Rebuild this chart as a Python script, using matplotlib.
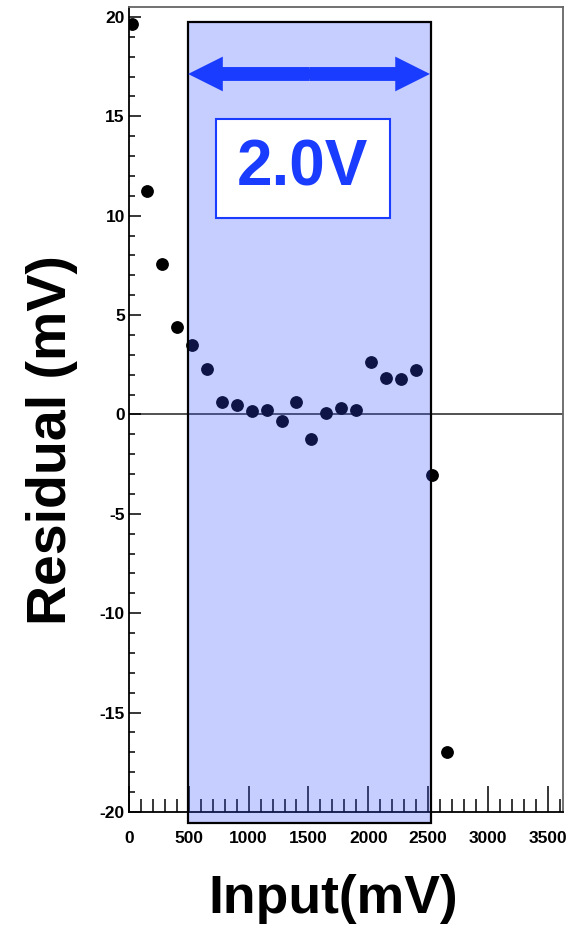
import matplotlib
matplotlib.use("Agg")
import matplotlib.pyplot as plt
from matplotlib.patches import Rectangle
from matplotlib.ticker import MultipleLocator

plt.rcParams['font.family'] = ['Liberation Sans', 'DejaVu Sans']
plt.rcParams['axes.unicode_minus'] = False

# residuals
input_mv = [25, 150, 275, 400, 525, 650, 775, 900, 1025, 1150, 1275,
            1400, 1525, 1650, 1775, 1900, 2025, 2150, 2275, 2400, 2535, 2660]
residual_mv = [19.65, 11.23, 7.56, 4.38, 3.5, 2.27, 0.65, 0.5, 0.18, 0.2, -0.35,
               0.65, -1.25, 0.05, 0.35, 0.2, 2.62, 1.82, 1.78, 2.22, -3.07, -17.0]

range_lo, range_hi = 492, 2522   # the 2.0V window
range_label = "2.0V"

W, H = 585, 925
fig = plt.figure(figsize=(W / 100, H / 100), dpi=100)
ax = fig.add_axes([129 / W, 1 - 812 / H, (563 - 129) / W, (812 - 7) / H])

ax.set_xlim(0, 3628)
ax.set_ylim(-20, 20.5)

# points
ax.plot(input_mv, residual_mv, 'o', color='black', ms=8.2, zorder=2)
ax.axhline(0, color='#222222', lw=1.1, zorder=1)

# shaded window (drawn over the points, like the original)
blue = '#1a3cff'
win = Rectangle((range_lo, -20.55), range_hi - range_lo, 20.55 + 19.75,
                facecolor=(0.2, 0.3, 1.0, 0.28), edgecolor='black', lw=1.6,
                zorder=3, clip_on=False)
ax.add_patch(win)

# double arrow
ymid = 17.13
xc = (range_lo + range_hi) / 2
ax.plot([xc - 300, xc + 300], [ymid, ymid], color=blue, lw=7, zorder=4,
        solid_capstyle='butt')
for xe in (range_lo + 2, range_hi - 6):
    ax.annotate('', xy=(xe, ymid), xytext=(xc, ymid),
                arrowprops=dict(arrowstyle='simple,head_length=0.5,head_width=0.5,tail_width=0.2',
                                color=blue, lw=0, mutation_scale=50,
                                shrinkA=0, shrinkB=0),
                zorder=4)

# label box
ax.add_patch(Rectangle((727, 9.9), 2180 - 727, 14.87 - 9.9,
                       facecolor='white', edgecolor=blue, lw=1.5, zorder=4))
ax.text(1454, 12.35, range_label, color=blue, fontsize=46, fontweight='bold',
        ha='center', va='center', zorder=5)

# axes styling, ROOT-like
for s in ('left', 'bottom'):
    ax.spines[s].set_color('black')
    ax.spines[s].set_linewidth(1.3)
for s in ('top', 'right'):
    ax.spines[s].set_color('#666666')
    ax.spines[s].set_linewidth(1.3)

ax.xaxis.set_major_locator(MultipleLocator(500))
ax.xaxis.set_minor_locator(MultipleLocator(100))
ax.yaxis.set_major_locator(MultipleLocator(5))
ax.yaxis.set_minor_locator(MultipleLocator(1))

ax.tick_params(axis='x', which='major', direction='in', length=18.5, width=1.1,
               pad=14, labelsize=12.5)
ax.tick_params(axis='x', which='minor', direction='in', length=9.5, width=1.1)
ax.tick_params(axis='y', which='major', direction='in', length=8.6, width=1.1,
               pad=3, labelsize=12.5)
ax.tick_params(axis='y', which='minor', direction='in', length=4.3, width=1.1)
for lab in ax.get_xticklabels() + ax.get_yticklabels():
    lab.set_fontweight('bold')

fig.text(333 / W, 1 - 913 / H, 'Input(mV)', fontsize=38.5, fontweight='bold',
         ha='center', va='baseline')
fig.text(52 / W, 1 - 440 / H, 'Residual (mV)', fontsize=40, fontweight='bold',
         ha='center', va='center', rotation=90)

fig.savefig('out.png', dpi=100)
